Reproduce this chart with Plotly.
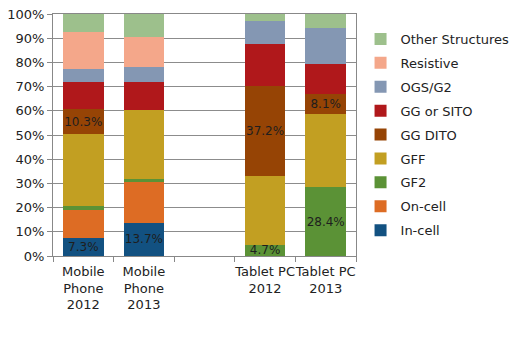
import plotly.graph_objects as go

categories = ["Mobile<br>Phone<br>2012", "Mobile<br>Phone<br>2013", " ", "Tablet PC<br>2012", "Tablet PC<br>2013"]

series_names = ["In-cell", "On-cell", "GF2", "GFF", "GG DITO", "GG or SITO", "OGS/G2", "Resistive", "Other Structures"]
in_cell = [7.3, 13.7, 0, 0, 0]
on_cell = [11.9, 16.9, 0, 0, 0]
gf2 = [1.3, 1.3, 0, 4.7, 28.4]
gff = [29.8, 28.5, 0, 28.4, 30.4]
gg_dito = [10.3, 0, 0, 37.2, 8.1]
gg_sito = [11.4, 11.5, 0, 17.5, 12.4]
ogs_g2 = [5.4, 6.2, 0, 9.2, 15.0]
resistive = [15.3, 12.4, 0, 0, 0]
other = [7.4, 9.5, 0, 3.0, 5.7]

labels_in_cell = ["7.3%", "13.7%", "", "", ""]
labels_gf2 = ["", "", "", "4.7%", "28.4%"]
labels_gg_dito = ["10.3%", "", "", "37.2%", "8.1%"]

colors = ["#125181", "#dd6c24", "#5b9236", "#c29f22", "#964405", "#b0181b", "#8497b3", "#f4a78a", "#9dc08c"]

series_values = [in_cell, on_cell, gf2, gff, gg_dito, gg_sito, ogs_g2, resistive, other]
series_labels = [labels_in_cell, None, labels_gf2, None, labels_gg_dito, None, None, None, None]

FONT = "DejaVu Sans"
fig = go.Figure()
n = len(series_names)
for i, (name, vals, lab, col) in enumerate(zip(series_names, series_values, series_labels, colors)):
    fig.add_trace(go.Bar(
        x=categories, y=vals, name=name,
        marker=dict(color=col, line=dict(width=0)),
        text=lab if lab else None,
        textposition="inside" if lab else "none",
        insidetextanchor="middle",
        textangle=0,
        constraintext="none",
        textfont=dict(family=FONT, size=12, color="#1e1e1e"),
        legendgroup=name,
        legendrank=n - i,
        hoverinfo="skip",
    ))

fig.update_layout(
    barmode="stack",
    bargap=0.33,
    width=522, height=343,
    margin=dict(l=53, r=135, t=7, b=87),
    paper_bgcolor="white", plot_bgcolor="white",
    font=dict(family=FONT, size=12, color="#222"),
    legend=dict(
        traceorder="grouped", tracegroupgap=4,
        x=1.015, xanchor="left", y=0.5, yanchor="middle",
        font=dict(family=FONT, size=13, color="#222"),
        bgcolor="rgba(0,0,0,0)",
    ),
    showlegend=True,
)
fig.update_xaxes(
    type="category", categoryorder="array", categoryarray=categories,
    tickson="boundaries", ticks="outside", ticklen=5, tickcolor="#888",
    showline=True, linecolor="#888", linewidth=1, mirror=True,
    showgrid=False, tickangle=0, ticklabelstandoff=3,
    tickfont=dict(family=FONT, size=13, color="#222"),
)
fig.update_yaxes(
    range=[0, 100], tickvals=list(range(0, 101, 10)),
    ticktext=[f"{v}%" for v in range(0, 101, 10)],
    ticks="outside", ticklen=5, tickcolor="#888",
    showline=True, linecolor="#888", linewidth=1, mirror=True,
    showgrid=True, gridcolor="#8c8c8c", gridwidth=1,
    ticklabeloverflow="allow",
    tickfont=dict(family=FONT, size=13, color="#222"),
)
fig.write_html("out.html")
